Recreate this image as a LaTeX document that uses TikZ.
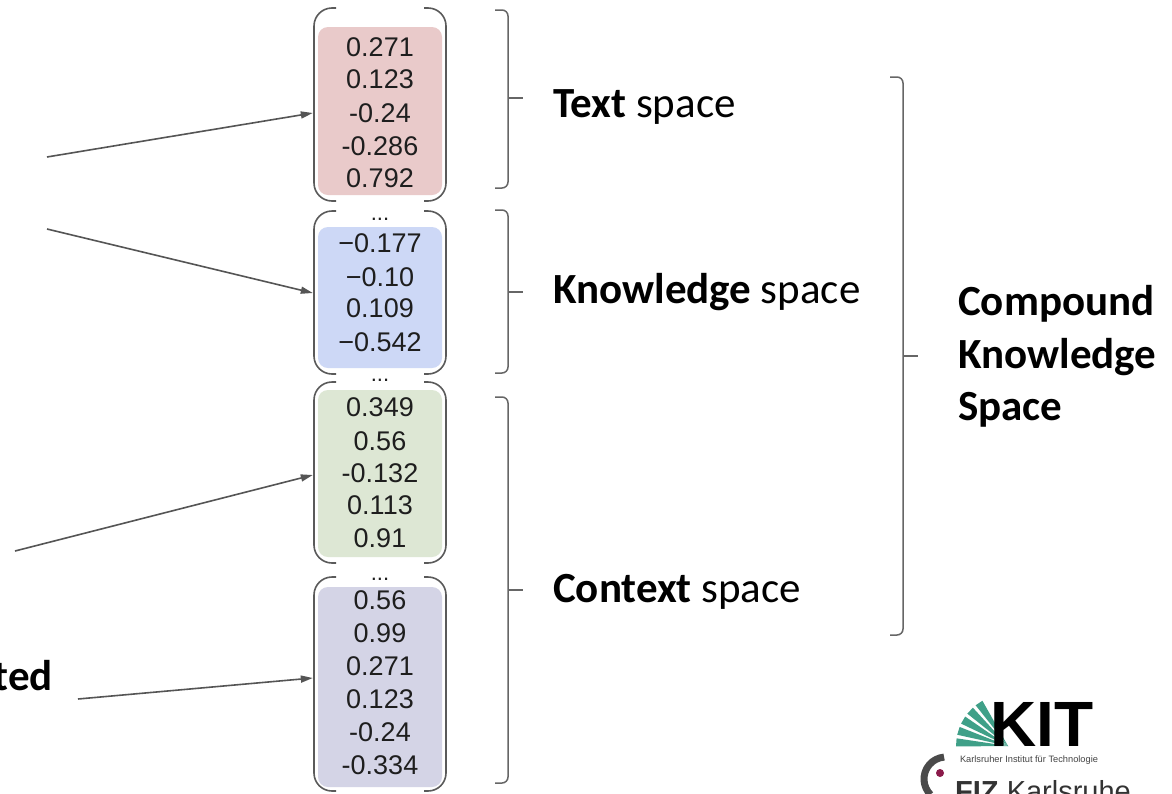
\documentclass[tikz,border=0pt]{standalone}
\usepackage{fontspec}
\setmainfont{Carlito}
\newfontfamily\arialf{Liberation Sans}
\usetikzlibrary{arrows.meta,calc}
\definecolor{pinkc}{HTML}{E9CACA}
\definecolor{bluec}{HTML}{CDD8F6}
\definecolor{greenc}{HTML}{DDE7D4}
\definecolor{purplec}{HTML}{D4D4E6}
\definecolor{numc}{HTML}{1E1E1E}
\definecolor{linec}{HTML}{5A5A5A}
\definecolor{bracec}{HTML}{666666}
\definecolor{arrc}{HTML}{555555}
\definecolor{kitgreen}{HTML}{3FA088}
\definecolor{kitgray}{HTML}{444444}
\definecolor{fizgray}{HTML}{4A4A4A}
\definecolor{fizred}{HTML}{8B1A4A}
\definecolor{fiztext}{HTML}{333333}
\newcommand\vecgroup[2]{%
  \draw[bkt] (336,#1) -- (314,#1) -- (314,#2) -- (336,#2);
  \draw[bkt] (424,#1) -- (446,#1) -- (446,#2) -- (424,#2);}
\newcommand\smallbrace[3]{%
  \draw[brc] (495,#1) -- (508,#1) -- (508,#2) -- (495,#2);
  \draw[brc] (508,#3) -- (523,#3);}
\begin{document}
\begin{tikzpicture}[x=1pt,y=-1pt,
  fillbox/.style={draw=none, rounded corners=10pt, minimum width=124pt, inner sep=0pt},
  num/.style={font=\arialf\fontsize{27}{30}\selectfont, text=numc, anchor=base, inner sep=0pt},
  dots/.style={font=\arialf\fontsize{22}{26}\selectfont, text=numc, anchor=base, inner sep=0pt},
  bkt/.style={draw=linec, line width=1.6pt, rounded corners=18pt},
  brc/.style={draw=bracec, line width=1.5pt, rounded corners=6pt},
  lbl/.style={font=\fontsize{43}{50}\selectfont, anchor=base west, inner sep=0pt, text=black},
  arr/.style={draw=arrc, line width=1.6pt, -{Triangle[length=12pt,width=7pt]}}
]
\useasboundingbox (0,0) rectangle (1172,793);
\fill[white] (0,0) rectangle (1172,793);

% coloured vector blocks
\node[fillbox, fill=pinkc,   minimum height=168pt] (g1) at (380,111) {};
\node[fillbox, fill=bluec,   minimum height=141pt] (g2) at (380,297.5) {};
\node[fillbox, fill=greenc,  minimum height=167pt] (g3) at (380,473.5) {};
\node[fillbox, fill=purplec, minimum height=200pt] (g4) at (380,687) {};

% outer round brackets
\vecgroup{8}{201}
\vecgroup{211}{374}
\vecgroup{382}{563}
\vecgroup{577}{791}

% numbers
\foreach \v/\y [count=\i] in {0.271/56.5, 0.123/88.5, -0.24/122.5, -0.286/155.5, 0.792/187.5}
  \node[num] (ta\i) at (380,\y) {\v};
\foreach \v/\y [count=\i] in {−0.177/252.5, −0.10/286.5, 0.109/317.5, −0.542/351.5}
  \node[num] (tb\i) at (380,\y) {\v};
\foreach \v/\y [count=\i] in {0.349/416.5, 0.56/450.5, -0.132/482.5, 0.113/514.5, 0.91/547.5}
  \node[num] (tc\i) at (380,\y) {\v};
\foreach \v/\y [count=\i] in {0.56/609.5, 0.99/642.5, 0.271/675.5, 0.123/708.5, -0.24/741.5, -0.334/774.5}
  \node[num] (td\i) at (380,\y) {\v};
\node[dots] (d2) at (380,220) {...};
\node[dots] (d3) at (380,381) {...};
\node[dots] (d4) at (380,580) {...};

% arrows from the left
\coordinate (a1) at (47,157);
\coordinate (a2) at (47,229);
\coordinate (a3) at (15,551);
\coordinate (a4) at (78,699);
\draw[arr] (a1) -- ([xshift=-5pt,yshift=-2pt]g1.west);
\draw[arr] (a2) -- ([xshift=-5pt,yshift=4.5pt]g2.west);
\draw[arr] (a3) -- ([xshift=-5pt,yshift=-1.5pt]g3.west);
\draw[arr] (a4) -- ([xshift=-5pt,yshift=9pt]g4.west);
\node[lbl, anchor=base east] (ted) at (53,690) {\textbf{ted}};

% braces
\smallbrace{10}{188}{98}
\smallbrace{210}{373}{292}
\smallbrace{397}{783}{590}
\draw[brc] (890,77) -- (903,77) -- (903,635) -- (890,635);
\draw[brc] (903,356) -- (918,356);

% labels
\node[lbl] (ts) at (553,117) {\textbf{Text} space};
\node[lbl] (ks) at (553,303) {\textbf{Knowledge} space};
\node[lbl] (cs) at (553,602) {\textbf{Context} space};
\node[lbl] (ck1) at (958,315) {\textbf{Compound}};
\node[lbl] (ck2) at (958,368) {\textbf{Knowledge}};
\node[lbl] (ck3) at (958,420) {\textbf{Space}};

% KIT logo
\foreach \a in {184,197,210,223,236}
  \fill[kitgreen] (1008,746) -- +(\a-4.5:52) -- +(\a+4.5:52) -- cycle;
\node[anchor=base west, inner sep=0pt, font=\arialf\bfseries\fontsize{64}{68}\selectfont] (kit) at (990,746) {KIT};
\node[inner sep=0pt, text=kitgray] (kitsub) at (1029,760) {\resizebox{138pt}{!}{\arialf Karlsruher Institut für Technologie}};

% FIZ logo
\draw[fizgray, line width=7pt] (946,779) ++(265:22) arc[start angle=265, end angle=135, radius=22];
\fill[fizred] (940,773) circle[radius=4];
\node[anchor=base west, inner sep=0pt, text=fiztext, font=\arialf\fontsize{29}{32}\selectfont] (fiz) at (955,801) {\textbf{FIZ} Karlsruhe};
\end{tikzpicture}
\end{document}
